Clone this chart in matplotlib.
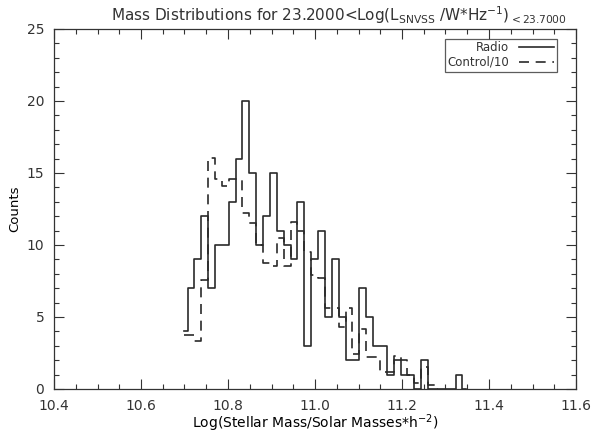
import numpy as np
import matplotlib
matplotlib.use("Agg")
import matplotlib.pyplot as plt
from matplotlib.ticker import MultipleLocator, FormatStrFormatter

# ── Data (bin centres, counts) ───────────────────────────────────────────────
bin_start = 10.699
bin_width = 0.0158
radio = [4, 7, 9, 12, 7, 10, 10, 13, 16, 20, 15, 10, 12, 15, 11, 10, 9, 13, 3,
         9, 11, 5, 9, 5, 2, 2, 7, 5, 3, 3, 1, 2, 1, 1, 0, 2, 0, 0, 0, 0, 1, 0]
control = [3.75, 3.75, 3.36, 7.55, 16.06, 14.6, 14.1, 14.6, 14.6, 12.2, 11.5,
           10.0, 8.75, 8.55, 10.5, 8.55, 11.6, 11.0, 9.5, 7.9, 7.7, 5.6, 5.6,
           4.3, 5.6, 2.4, 4.2, 2.2, 2.2, 1.2, 1.2, 2.3, 2.0, 1.0, 0.4, 1.5,
           0.3, 0.0]

radio_x = bin_start + bin_width * np.arange(len(radio))
control_x = bin_start + bin_width * np.arange(len(control))

title = (r"Mass Distributions for 23.2000<Log(L$_{\mathrm{SNVSS}}$ /W*Hz$^{-1}$)"
         r"$_{\mathrm{<23.7000}}$")

plt.rcParams.update({
    "font.family": "DejaVu Sans",
    "font.size": 9,
    "text.color": "#333333",
    "axes.edgecolor": "#333333",
    "xtick.color": "#333333",
    "ytick.color": "#333333",
})

fig = plt.figure(figsize=(5.93, 4.37), dpi=100)
W, H = 593, 437
ax = fig.add_axes([54 / W, (H - 389) / H, (576 - 54) / W, (389 - 29) / H])

line_col = "#2a2a2a"
ax.step(radio_x, radio, where="mid", color=line_col, lw=1.2, label="Radio")
ax.step(control_x, control, where="mid", color=line_col, lw=1.2,
        dashes=(6, 4), label="Control/10")

ax.set_xlim(10.4, 11.6)
ax.set_ylim(0, 25)
ax.xaxis.set_major_locator(MultipleLocator(0.2))
ax.xaxis.set_minor_locator(MultipleLocator(0.05))
ax.yaxis.set_major_locator(MultipleLocator(5))
ax.yaxis.set_minor_locator(MultipleLocator(1))
ax.xaxis.set_major_formatter(FormatStrFormatter("%.1f"))
ax.tick_params(which="both", direction="in", top=True, right=True, width=0.8)
ax.tick_params(axis="x", labelsize=10, pad=7)
ax.tick_params(axis="y", labelsize=10, pad=7)
ax.tick_params(which="major", length=7)
ax.tick_params(which="minor", length=3.5)
for s in ax.spines.values():
    s.set_linewidth(0.9)

ax.set_xlabel(r"Log(Stellar Mass/Solar Masses*h$^{-2}$)", fontsize=10,
              labelpad=0)
ax.set_ylabel("Counts", fontsize=9.5, labelpad=4)
ax.set_title(title, fontsize=11, pad=6, x=0.545)

leg = ax.legend(loc="upper right", markerfirst=False, fontsize=8.5,
                frameon=True, fancybox=False, edgecolor="#333333",
                handlelength=3.0, borderpad=0.25, labelspacing=0.1,
                bbox_to_anchor=(0.975, 0.99))
leg.get_frame().set_linewidth(0.9)
for t in leg.get_texts():
    t.set_ha("right")

fig.savefig("out.png", dpi=100)
